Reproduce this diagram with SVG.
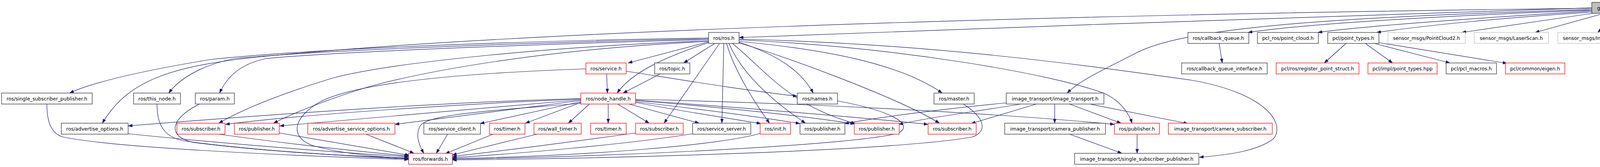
<svg xmlns="http://www.w3.org/2000/svg" width="5921" height="427" viewBox="0 0 5921 427">
<style>
.n rect{fill:#fff;stroke:#333;stroke-width:1.3}
.n.red rect{stroke:#ff0000}
.n.gray rect{stroke:#bfbfbf}
.n.root rect{fill:#bfbfbf;stroke:#333}
.n text{font-family:"DejaVu Sans","Liberation Sans",sans-serif;font-size:12.5px;fill:#000;text-anchor:middle}
#edges path{fill:none;stroke:#191970;stroke-width:1.2;marker-end:url(#ah)}
</style>
<defs>
<marker id="ah" markerUnits="userSpaceOnUse" markerWidth="11" markerHeight="8" refX="11" refY="4" orient="auto">
<path d="M0,0 L11,4 L0,8 z" fill="#191970" stroke="#191970" stroke-width="0.5"/>
</marker>
</defs>
<rect width="5921" height="427" fill="#fff"/>
<g id="edges">
<!-- gazebo -->
<path d="M4075,20 C3400,40 2600,70 1892,96"/>
<path d="M4075,21 C2500,40 1300,85 700,142 C450,165 330,200 262,315"/>
<path d="M4075,24 C3400,45 3020,70 2900,140 C2800,190 2760,210 2732,238"/>
<path d="M4075,26 C3700,40 3350,60 3195,83"/>
<path d="M4075,28 C3800,45 3500,65 3374,83"/>
<path d="M4075,31 C3850,45 3650,65 3524,83"/>
<path d="M4078,34 L3742,83"/>
<path d="M4107,34 L3930,83"/>
<path d="M4144,34 L4090,83"/>
<path d="M4180,34 L4237,83"/>
<path d="M4213,34 L4380,83"/>
<path d="M4250,30 C4350,45 4450,65 4540,83"/>
<path d="M4250,28 C4450,40 4620,65 4750,84"/>
<path d="M4250,26 C4550,35 4780,60 4946,85"/>
<path d="M4250,24 C4650,32 4900,58 5104,84"/>
<path d="M4250,23 C4750,30 5050,55 5304,84"/>
<path d="M4250,22 C4850,28 5200,52 5506,84"/>
<path d="M4250,21 C4950,27 5400,55 5740,84"/>
<!-- ros.h -->
<path d="M1814,97 C1300,105 800,125 540,152 C400,175 250,205 178,238"/>
<path d="M1814,99 C1300,110 800,130 600,150 C520,165 460,200 432,238"/>
<path d="M1814,101 C1300,115 820,135 680,150 C610,165 580,200 562,238"/>
<path d="M1814,104 C1400,120 1000,160 850,200 C720,240 620,280 560,315"/>
<path d="M1814,106 C1400,125 1100,180 950,220 C850,250 760,285 700,315"/>
<path d="M1814,107 L1608,161"/>
<path d="M1814,109 C1720,140 1620,180 1580,238"/>
<path d="M1830,111 L1750,161"/>
<path d="M1842,111 L1700,315"/>
<path d="M1853,111 L1848,315"/>
<path d="M1860,111 C1880,180 1930,260 1970,315"/>
<path d="M1866,111 C1900,190 1980,260 2062,315"/>
<path d="M1875,111 C1960,180 2020,270 2190,316"/>
<path d="M1892,108 C1990,140 2050,180 2082,238"/>
<path d="M1892,106 C2100,125 2300,160 2412,238"/>
<path d="M1892,110 C2000,140 2300,250 2405,315"/>
<path d="M1892,102 C2300,120 2700,190 2830,240 C2870,260 2890,290 2898,315"/>
<path d="M1892,100 C2400,112 2800,170 3050,205 C3250,240 3290,320 3260,355 C3220,385 3150,396 3070,402"/>
<!-- service.h, topic.h -->
<path d="M1553,189 L1555,238"/>
<path d="M1603,182 C1750,205 1900,230 2041,246"/>
<path d="M1500,176 C1100,190 900,220 820,260 C750,300 740,350 800,372 C880,395 980,402 1046,405"/>
<path d="M1690,189 L1595,238"/>
<!-- callback queue, point types -->
<path d="M3121,111 L3129,161"/>
<path d="M3446,111 L3390,161"/>
<path d="M3495,111 L3565,161"/>
<path d="M3518,111 L3712,161"/>
<path d="M3530,109 L3858,162"/>
<!-- node_handle.h -->
<path d="M1509,266 L1455,315"/>
<path d="M1557,266 L1557,315"/>
<path d="M1581,266 L1662,315"/>
<path d="M1610,266 L1790,315"/>
<path d="M1627,262 C1750,285 1880,305 1948,316"/>
<path d="M1627,260 C1800,280 1950,300 2048,316"/>
<path d="M1627,257 C1850,275 2050,295 2188,317"/>
<path d="M1627,256 C1900,275 2200,300 2376,318"/>
<path d="M1627,254 C2000,262 2500,285 2853,318"/>
<path d="M1487,262 L1345,315"/>
<path d="M1487,260 L1229,316"/>
<path d="M1487,257 L1011,318"/>
<path d="M1487,255 L716,322"/>
<path d="M1487,253 C1200,265 800,290 577,318"/>
<path d="M1487,252 C1100,262 600,300 328,322"/>
<path d="M1487,264 C1300,280 1100,290 1077,320 C1060,345 1075,375 1085,392"/>
<!-- to forwards.h -->
<path d="M120,266 C120,310 130,340 160,350 C300,380 800,400 1046,408"/>
<path d="M402,266 C402,320 420,350 470,360 C650,385 900,400 1046,406"/>
<path d="M511,266 C440,300 420,350 500,365 C700,390 920,400 1046,404"/>
<path d="M328,342 C600,370 900,392 1046,401"/>
<path d="M560,343 C750,370 950,390 1046,399"/>
<path d="M715,340 L1048,397"/>
<path d="M937,343 L1060,392"/>
<path d="M1146,343 L1117,392"/>
<path d="M1262,343 L1140,393"/>
<path d="M1375,343 L1158,396"/>
<path d="M1627,340 C1450,365 1250,390 1158,400"/>
<path d="M1773,342 C1600,370 1300,395 1158,403"/>
<path d="M1946,341 C1850,370 1500,400 1158,405"/>
<path d="M2144,258 C2290,285 2340,320 2300,340 C2200,370 1600,400 1158,407"/>
<path d="M2466,266 C2520,300 2530,335 2490,350 C2300,385 1600,405 1158,409"/>
<!-- image_transport -->
<path d="M2576,263 C2400,280 2250,300 2162,316"/>
<path d="M2613,266 C2500,285 2380,300 2301,318"/>
<path d="M2653,266 L2486,316"/>
<path d="M2700,266 L2700,315"/>
<path d="M2738,266 L2870,315"/>
<path d="M2790,266 L3041,316"/>
<path d="M2738,343 L2872,392"/>
<path d="M2911,343 L2911,392"/>
</g>
<g id="node_gazebo" class="n root"><rect x="4075" y="6" width="175" height="28"/><text x="4162.5" y="24.5">gazebo_ros_gpu_laser.h</text></g>
<g id="node_ros" class="n"><rect x="1814" y="83" width="78" height="28"/><text x="1853" y="101.5">ros/ros.h</text></g>
<g id="node_callback_queue" class="n"><rect x="3041" y="83" width="156" height="28"/><text x="3119" y="101.5">ros/callback_queue.h</text></g>
<g id="node_point_cloud" class="n"><rect x="3219" y="83" width="156" height="28"/><text x="3297" y="101.5">pcl_ros/point_cloud.h</text></g>
<g id="node_point_types" class="n"><rect x="3399" y="83" width="131" height="28"/><text x="3464.5" y="101.5">pcl/point_types.h</text></g>
<g id="node_pointcloud2" class="n gray"><rect x="3553" y="83" width="198" height="28"/><text x="3652" y="101.5">sensor_msgs/PointCloud2.h</text></g>
<g id="node_laserscan" class="n gray"><rect x="3774" y="83" width="190" height="28"/><text x="3869" y="101.5">sensor_msgs/LaserScan.h</text></g>
<g id="node_image" class="n gray"><rect x="3988" y="83" width="162" height="28"/><text x="4069" y="101.5">sensor_msgs/Image.h</text></g>
<g id="node_param_hh" class="n gray"><rect x="4174" y="83" width="167" height="28"/><text x="4257.5" y="101.5">sdf/interface/Param.hh</text></g>
<g id="node_physics" class="n gray"><rect x="4363" y="83" width="140" height="28"/><text x="4433" y="101.5">physics/physics.hh</text></g>
<g id="node_transport" class="n gray"><rect x="4526" y="83" width="198" height="28"/><text x="4625" y="101.5">transport/TransportTypes.hh</text></g>
<g id="node_msgs" class="n gray"><rect x="4748" y="83" width="173" height="28"/><text x="4834.5" y="101.5">msgs/MessageTypes.hh</text></g>
<g id="node_time" class="n gray"><rect x="4945" y="83" width="135" height="28"/><text x="5012.5" y="101.5">common/Time.hh</text></g>
<g id="node_sensors" class="n gray"><rect x="5103" y="83" width="176" height="28"/><text x="5191" y="101.5">sensors/SensorTypes.hh</text></g>
<g id="node_gpuray" class="n gray"><rect x="5303" y="83" width="178" height="28"/><text x="5392" y="101.5">plugins/GpuRayPlugin.hh</text></g>
<g id="node_dynrec" class="n gray"><rect x="5505" y="83" width="211" height="28"/><text x="5610.5" y="101.5">dynamic_reconfigure/server.h</text></g>
<g id="node_mutex" class="n gray"><rect x="5739" y="83" width="178" height="28"/><text x="5828" y="101.5">boost/thread/mutex.hpp</text></g>
<g id="node_service" class="n red"><rect x="1500" y="161" width="103" height="28"/><text x="1551.5" y="179.5">ros/service.h</text></g>
<g id="node_topic" class="n"><rect x="1676" y="161" width="90" height="28"/><text x="1721" y="179.5">ros/topic.h</text></g>
<g id="node_cqi" class="n"><rect x="3025" y="161" width="219" height="28"/><text x="3134.5" y="179.5">ros/callback_queue_interface.h</text></g>
<g id="node_rps" class="n red"><rect x="3267" y="161" width="212" height="28"/><text x="3373" y="179.5">pcl/ros/register_point_struct.h</text></g>
<g id="node_impl_pt" class="n red"><rect x="3502" y="161" width="177" height="28"/><text x="3590.5" y="179.5">pcl/impl/point_types.hpp</text></g>
<g id="node_macros" class="n"><rect x="3702" y="161" width="129" height="28"/><text x="3766.5" y="179.5">pcl/pcl_macros.h</text></g>
<g id="node_eigen" class="n red"><rect x="3854" y="161" width="152" height="28"/><text x="3930" y="179.5">pcl/common/eigen.h</text></g>
<g id="node_ssp" class="n"><rect x="4" y="238" width="232" height="28"/><text x="120" y="256.5">ros/single_subscriber_publisher.h</text></g>
<g id="node_this_node" class="n"><rect x="342" y="238" width="120" height="28"/><text x="402" y="256.5">ros/this_node.h</text></g>
<g id="node_param" class="n"><rect x="500" y="238" width="100" height="28"/><text x="550" y="256.5">ros/param.h</text></g>
<g id="node_node_handle" class="n red"><rect x="1487" y="238" width="140" height="28"/><text x="1557" y="256.5">ros/node_handle.h</text></g>
<g id="node_names" class="n"><rect x="2041" y="238" width="103" height="28"/><text x="2092.5" y="256.5">ros/names.h</text></g>
<g id="node_master" class="n"><rect x="2391" y="238" width="103" height="28"/><text x="2442.5" y="256.5">ros/master.h</text></g>
<g id="node_it" class="n"><rect x="2576" y="238" width="250" height="28"/><text x="2701" y="256.5">image_transport/image_transport.h</text></g>
<g id="node_adv_opt" class="n"><rect x="157" y="315" width="171" height="28"/><text x="242.5" y="333.5">ros/advertise_options.h</text></g>
<g id="node_sub1" class="n red"><rect x="453" y="315" width="123" height="28"/><text x="514.5" y="333.5">ros/subscriber.h</text></g>
<g id="node_pub1" class="n red"><rect x="600" y="315" width="115" height="28"/><text x="657.5" y="333.5">ros/publisher.h</text></g>
<g id="node_aso" class="n red"><rect x="788" y="315" width="223" height="28"/><text x="899.5" y="333.5">ros/advertise_service_options.h</text></g>
<g id="node_sc" class="n"><rect x="1085" y="315" width="145" height="28"/><text x="1157.5" y="333.5">ros/service_client.h</text></g>
<g id="node_timer1" class="n red"><rect x="1253" y="315" width="91" height="28"/><text x="1298.5" y="333.5">ros/timer.h</text></g>
<g id="node_wall_timer" class="n red"><rect x="1367" y="315" width="121" height="28"/><text x="1427.5" y="333.5">ros/wall_timer.h</text></g>
<g id="node_timer2" class="n red"><rect x="1512" y="315" width="91" height="28"/><text x="1557.5" y="333.5">ros/timer.h</text></g>
<g id="node_sub3" class="n red"><rect x="1627" y="315" width="122" height="28"/><text x="1688" y="333.5">ros/subscriber.h</text></g>
<g id="node_ss" class="n"><rect x="1773" y="315" width="149" height="28"/><text x="1847.5" y="333.5">ros/service_server.h</text></g>
<g id="node_init" class="n red"><rect x="1946" y="315" width="78" height="28"/><text x="1985" y="333.5">ros/init.h</text></g>
<g id="node_pub3" class="n"><rect x="2048" y="315" width="115" height="28"/><text x="2105.5" y="333.5">ros/publisher.h</text></g>
<g id="node_pub4" class="n red"><rect x="2187" y="315" width="115" height="28"/><text x="2244.5" y="333.5">ros/publisher.h</text></g>
<g id="node_sub4" class="n red"><rect x="2376" y="315" width="123" height="28"/><text x="2437.5" y="333.5">ros/subscriber.h</text></g>
<g id="node_cp" class="n"><rect x="2572" y="315" width="258" height="28"/><text x="2701" y="333.5">image_transport/camera_publisher.h</text></g>
<g id="node_pub5" class="n red"><rect x="2853" y="315" width="115" height="28"/><text x="2910.5" y="333.5">ros/publisher.h</text></g>
<g id="node_cs" class="n red"><rect x="2991" y="315" width="266" height="28"/><text x="3124" y="333.5">image_transport/camera_subscriber.h</text></g>
<g id="node_forwards" class="n red"><rect x="1046" y="392" width="112" height="28"/><text x="1102" y="410.5">ros/forwards.h</text></g>
<g id="node_itssp" class="n"><rect x="2751" y="392" width="318" height="28"/><text x="2910" y="410.5">image_transport/single_subscriber_publisher.h</text></g>
</svg>
